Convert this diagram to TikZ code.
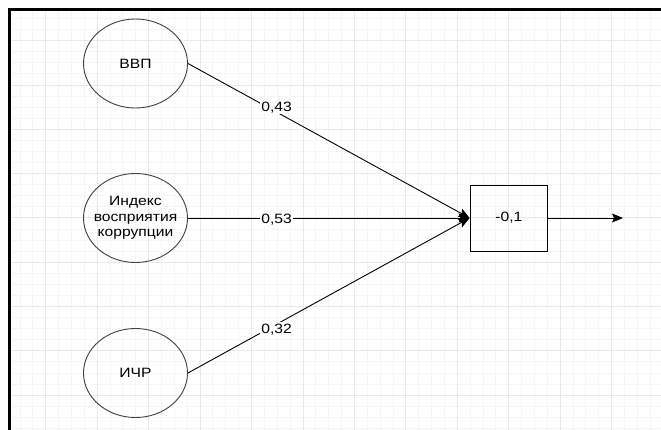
\documentclass[tikz,border=0pt]{standalone}
\usepackage{fontspec}
\setmainfont{Liberation Sans}[FakeStretch=1.16]
\usetikzlibrary{shapes.geometric,arrows.meta}

\begin{document}
\begin{tikzpicture}[x=1pt, y=-1pt,
	var/.style={draw=black!75, ellipse, minimum width=104pt, minimum height=89pt, inner sep=0pt, line width=0.9pt},
	txt/.style={font=\fontsize{13.5}{15.5}\selectfont, align=center, inner sep=0pt},
	weight/.style={font=\fontsize{13.5}{15.5}\selectfont, fill=white, inner sep=1.2pt},
	link/.style={line width=0.9pt, -{Stealth[length=11pt, width=9pt, inset=2pt]}}]

	% page and background grid
	\useasboundingbox[fill=white] (0,0) rectangle (661,430);
	\foreach \i in {-2,...,47} {
		\pgfmathsetmacro\gx{45.7+\i*12.8625}
		\draw[gray!7, line width=0.9pt] (\gx,10) -- (\gx,430);
	}
	\foreach \j in {-2,...,35} {
		\pgfmathsetmacro\gy{40.7+\j*11.075}
		\draw[gray!7, line width=0.9pt] (9,\gy) -- (661,\gy);
	}
	\foreach \i in {0,...,11} {
		\pgfmathsetmacro\gx{45.7+\i*51.45}
		\draw[gray!17, line width=0.9pt] (\gx,10) -- (\gx,430);
	}
	\foreach \j in {0,...,8} {
		\pgfmathsetmacro\gy{40.7+\j*44.3}
		\draw[gray!17, line width=0.9pt] (9,\gy) -- (661,\gy);
	}
	\draw[line width=3pt] (9,430) -- (9,10) -- (661,10);

	% input factors
	\node[var, label={[txt]center:ВВП}] (gdp) at (135.5,63.5) {};
	\node[var, label={[txt]center:Индекс\\восприятия\\коррупции}] (cpi) at (135.5,218) {};
	\node[var, label={[txt]center:ИЧР}] (hdi) at (135.5,373) {};

	% output unit
	\node[draw, line width=0.9pt, minimum width=77.7pt, minimum height=66pt, txt] (sum) at (508.9,218) {-0,1};
	\coordinate (res) at (623,218);

	% weighted connections
	\draw[link] (gdp.east) -- node[weight, pos=0.315, yshift=5pt] {0,43} (sum.west);
	\draw[link] (cpi.east) -- node[weight, pos=0.315, yshift=-2pt] {0,53} (sum.west);
	\draw[link] (hdi.east) -- node[weight, pos=0.315, yshift=-5pt] {0,32} (sum.west);
	\draw[link] (sum) -- (res);

\end{tikzpicture}
\end{document}
